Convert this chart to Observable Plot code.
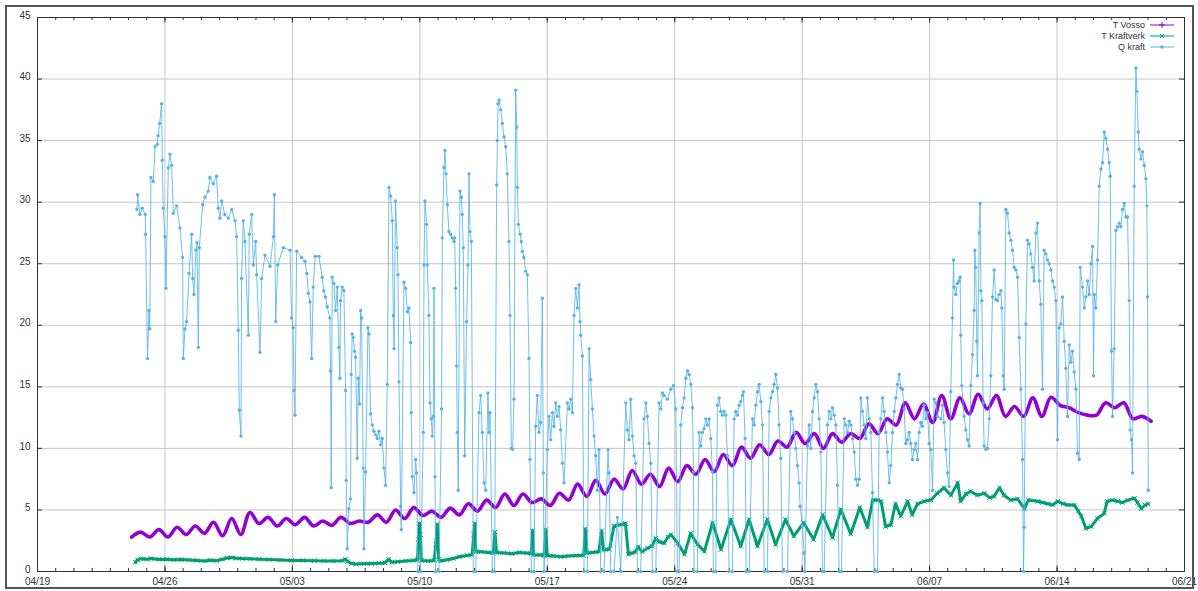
<!DOCTYPE html>
<html><head><meta charset="utf-8">
<script src="https://cdn.jsdelivr.net/npm/d3@7"></script>
<script src="https://cdn.jsdelivr.net/npm/@observablehq/plot@0.6"></script>
<style>
body{margin:0;background:#fff;}
#wrap{position:relative;width:1198px;height:591px;overflow:hidden;background:#fff;}
#border{position:absolute;left:5px;top:5px;width:1189px;height:584px;border:2px solid #555;box-sizing:border-box;pointer-events:none;}
#legend{position:absolute;left:0;top:0;pointer-events:none;}
</style></head>
<body><div id="wrap"><div id="chart"></div>
<svg id="legend" width="1198" height="80" font-family="Liberation Sans, Arial, sans-serif" font-size="9" fill="#333">
  <text x="1145" y="28" text-anchor="end">T Vosso</text>
  <line x1="1150" x2="1174" y1="25" y2="25" stroke="#9400d3" stroke-width="1"/>
  <path d="M1159,25h6M1162,22v6" stroke="#9400d3" stroke-width="1"/>
  <text x="1145" y="39" text-anchor="end">T Kraftverk</text>
  <line x1="1150" x2="1174" y1="36" y2="36" stroke="#009e73" stroke-width="1"/>
  <path d="M1160,34l4,4M1164,34l-4,4" stroke="#009e73" stroke-width="1"/>
  <text x="1145" y="50" text-anchor="end">Q kraft</text>
  <line x1="1150" x2="1174" y1="47" y2="47" stroke="#56b4e9" stroke-width="1"/>
  <circle cx="1162" cy="47" r="1.8" fill="#56b4e9"/>
</svg>
<div id="border"></div></div>
<script>
// ---- data (hours counted from 04/24 00:00) ----
const yTicks = [0,5,10,15,20,25,30,35,40,45];
const weekOffsets = [0,7,14,21,28,35,42,49,56,63];

// T Vosso: one value every 12 h starting 04/24 04:00 (night low, afternoon high)
const vossoValues = [2.8,3.2, 2.8,3.4, 2.8,3.6, 3.0,3.7, 3.1,4.0, 2.9,4.3, 3.0,4.8,
 3.9,4.4, 3.7,4.3, 3.8,4.4, 3.7,4.1, 3.75,4.4, 3.9,4.1, 4.0,4.6, 4.0,5.0, 4.3,5.2, 4.55,4.9,
 4.4,5.15, 4.6,5.5, 4.9,5.8, 5.2,6.3, 5.36,6.3, 5.6,5.9, 5.36,6.36, 5.8,7.1, 6.1,7.4, 6.3,7.5,
 6.7,8.2, 7.1,7.9, 6.9,8.4, 7.3,8.6, 7.9,9.1, 8.1,9.5, 8.6,10.1, 9.2,10.3, 9.5,10.6, 10.1,11.3,
 10.4,11.2, 10.0,11.2, 10.5,11.2, 10.8,12.0, 11.2,12.4, 11.9,13.7, 12.4,13.6, 12.1,14.3, 12.4,14.1,
 12.8,14.4, 13.2,14.3, 12.6,13.4, 12.6,14.1, 12.6,14.15, 13.5,13.3, 12.9,12.7, 12.7,13.7, 13.3,13.7,
 12.4,12.6, 12.2];

const kraftPoints = [[9,0.76],[12,0.95],[16,1.03],[24,1.0],[30,1.05],[40,0.98],[50,1.0],[60,0.95],[70,0.97],
 [80,0.93],[90,0.9],[100,0.86],[108,0.92],[116,0.88],[124,1.0],[130,1.1],[136,1.13],[142,1.08],[150,1.05],
 [160,1.03],[172,1.0],[185,0.97],[200,0.93],[215,0.9],[230,0.9],[245,0.88],[258,0.86],[270,0.85],[282,0.88],
 [286,1.0],[289,0.8],[294,0.65],[300,0.6],[310,0.62],[320,0.65],[330,0.68],[338,0.7],[343,1.0],[347,0.75],
 [355,0.8],[365,0.85],[375,0.9],[381,0.95],[382,2.6],[383.5,3.9],[385,3.0],[386,0.9],[395,0.85],[403,0.9],
 [405,2.2],[407,3.84],[409,1.0],[411,0.86],[420,0.95],[428,1.05],[436,1.2],[446,1.3],[453,1.35],[455,3.0],
 [456.5,3.9],[458,1.6],[465,1.6],[474,1.55],[481,1.5],[483,3.2],[485,1.55],[495,1.5],[505,1.45],[515,1.55],
 [525,1.5],[531,1.45],[532.5,3.3],[534,1.35],[542,1.35],[548,1.3],[550,3.4],[552,1.3],[560,1.25],[570,1.2],
 [580,1.25],[590,1.3],[600,1.3],[602,3.46],[604.5,1.5],[612,1.55],[620,1.6],[623.5,3.3],[626,1.75],[634,1.8],
 [640,3.7],[648,3.8],[655,3.9],[659,1.4],[664,1.5],[668,1.6],[672,2.0],[677,1.6],[684,1.9],[690,2.05],
 [695,2.7],[700,2.4],[706,2.3],[711,2.8],[715,3.0],[724,2.3],[733,1.4],[741,3.1],[750,2.2],[759,1.64],
 [770,3.96],[781,1.78],[794,4.23],[807,2.05],[818,4.23],[829,2.05],[842,4.23],[853,2.19],[866,4.23],
 [877,2.87],[890,3.96],[903,2.6],[915,4.6],[928,2.75],[939,5.05],[952,3.05],[964,5.2],[974,3.6],[981,5.8],
 [988,5.8],[992,5.7],[998,3.65],[1005,3.8],[1011,5.5],[1018,4.5],[1027,5.7],[1033,4.6],[1040,5.5],[1049,5.7],
 [1058,5.8],[1066,6.35],[1075,6.8],[1084,6.2],[1093,7.2],[1097,5.7],[1104,6.3],[1110,6.5],[1119,6.2],
 [1128,6.35],[1135,6.0],[1141,6.1],[1148,6.8],[1154,6.2],[1163,5.8],[1172,5.9],[1181,5.1],[1186,5.8],
 [1198,5.7],[1205,5.6],[1212,5.5],[1218,5.4],[1225,5.7],[1232,5.5],[1238,5.4],[1247,5.4],[1252,4.9],
 [1256,4.5],[1262,3.5],[1269,3.65],[1277,4.3],[1286,4.7],[1290,5.7],[1297,5.8],[1304,5.7],[1310,5.6],
 [1317,5.8],[1326,5.95],[1330,5.6],[1335,5.1],[1340,5.4],[1344,5.5]];

const qPoints = [[11,29.4],[12,30.6],[15,29.0],[18,29.5],[22,29.0],[22.5,27.4],[25,17.3],[27,21.2],[28,19.7],
 [29.5,32.0],[32.6,31.7],[35,34.5],[38,34.7],[39,35.4],[41,36.4],[43.6,38.0],[44.5,33.4],[45.8,29.5],[48,27.2],
 [49.3,23.0],[52.4,32.8],[54.6,33.9],[56.8,33.0],[59,29.1],[63.4,29.7],[67.8,27.9],[71.3,25.5],[72.2,17.3],
 [74.4,19.7],[76.6,20.3],[79.7,24.2],[83.2,27.4],[84.5,23.8],[86.2,22.5],[88.9,26.1],[90.2,26.7],[92,18.2],
 [93.3,26.3],[97.7,29.8],[100.8,30.4],[105,30.9],[107.3,32.0],[111.7,31.5],[116,32.1],[118.3,29.5],
 [120.5,28.7],[122.7,30.1],[127,29.0],[131.5,28.7],[136,29.4],[140.3,28.5],[142.5,27.2],[144.7,19.6],
 [146,13.1],[148.2,11.0],[149,23.8],[151.3,28.5],[153.5,26.8],[157.9,19.2],[159.2,27.4],[162.3,29.0],
 [164.5,24.9],[167.6,26.8],[168.9,24.1],[173.3,17.8],[175.5,23.8],[179.9,25.7],[186.5,24.8],[191,27.2],
 [192.2,30.6],[194,20.3],[196.6,24.9],[204,26.3],[212.9,26.1],[215,20.6],[217,19.8],[218.2,14.7],[219.4,12.7],
 [221.6,26.0],[228.2,25.5],[232.6,25.2],[235,24.2],[237,22.6],[239.2,21.9],[241.4,17.3],[243.5,23.1],
 [246,25.6],[251,25.6],[255.3,23.9],[257.5,22.8],[259.7,22.3],[261.9,21.5],[265.4,20.6],[266.3,16.3],
 [267.2,6.8],[268.5,23.9],[270.7,23.4],[273,21.2],[275.1,23.1],[277.3,18.2],[278.6,15.7],[279.5,22.0],
 [281.7,23.1],[283.9,22.8],[286.1,14.7],[287,7.4],[288.3,1.85],[290.5,5.1],[292.7,5.9],[293.6,16.0],
 [294.9,19.3],[296.2,19.0],[298,17.9],[299.3,17.4],[301.5,9.2],[302.8,15.7],[304.6,13.6],[305.9,21.2],
 [307.2,20.6],[309.4,8.4],[310.3,1.85],[312.5,8.1],[315.6,19.8],[316.9,19.3],[319.1,12.8],[321.3,11.9],
 [323.5,11.4],[325.7,11.1],[327.9,10.8],[330.1,11.4],[332.3,10.3],[334.5,10.8],[336.7,8.4],[338.9,7.0],
 [341.1,15.2],[343.3,31.2],[345.5,30.5],[347.7,28.5],[349,20.8],[350,18.1],
 [352,30.1],[354.3,26.3],[355.2,24.1],[356.5,15.4],[358.7,5.3],[359.6,3.4],[363.1,23.5],[365.3,23.0],
 [367.5,21.1],[369.7,21.4],[371.9,18.6],[372.7,12.9],[374,7.7],[376.3,6.4],[378.5,9.1],[379.8,8.0],
 [381.5,0],[385,0],[388.6,11.3],[389.5,24.9],[390.8,30.1],[393,28.2],[393.8,24.9],[396,20.8],[397.4,13.7],
 [399.1,12.4],[400.4,11.0],[401.8,12.6],[402.6,23.0],[404,7.7],[404.8,0],[409.2,0],[412.7,13.2],[413.6,27.1],
 [415.8,32.8],[417.1,34.2],[418.5,32.3],[420.2,29.8],[422.4,27.6],[424.6,27.4],[426.8,27.1],[429,26.8],
 [429.9,27.1],[431.2,23.0],[432.5,16.7],[433.4,11.3],[434.7,6.6],[436.9,30.9],[438.7,30.4],[440,29.0],
 [441.3,26.3],[443.1,9.4],[445.7,20.3],[447.5,24.9],[448.8,32.3],[450.1,27.6],[451.9,26.8],[454.5,0],
 [457.6,0],[462,12.9],[464.2,14.3],[466.4,11.3],[468.6,7.2],[470.8,6.6],[473.8,14.5],[475.2,11.3],
 [476.5,12.9],[479.6,0],[482.6,0],[485.3,31.4],[486.2,35.0],[487.1,38.0],[488.4,38.3],[490.6,37.5],
 [492.8,36.4],[495,35.3],[497.2,34.5],[499.3,32.3],[501.5,26.8],[502.9,20.8],[504.6,10.0],[506.4,9.9],
 [508.1,14.0],[510.3,39.1],[511.7,36.1],[512.6,31.2],[513.9,28.2],[516.1,27.4],[517.8,26.8],[519.1,26.0],
 [521.3,25.5],[523.5,24.4],[525.7,24.1],[527.9,17.3],[529.2,9.1],[531,0],[534.5,0],[536.7,11.8],[538.9,14.3],
 [541.1,11.3],[543.3,12.1],[545.5,22.2],[546.8,8.0],[547.7,0],[552.1,9.9],[554.3,12.6],[556.5,10.7],
 [558.7,12.9],[560.9,11.8],[563.1,13.7],[565.3,12.6],[567.5,13.4],[569.7,11.5],[571.9,8.8],[574.1,7.2],
 [578.5,13.7],[580.7,13.2],[582.9,14.0],[585.1,12.9],[587.3,20.8],[589.5,23.0],[591.7,21.4],[593.9,23.3],
 [595.2,20.3],[596.1,19.2],[598.3,17.5],[600.5,0],[604.9,0],[607.1,18.1],[609.3,15.6],[611.5,13.2],
 [613.7,11.0],[615.8,9.4],[618,6.6],[620.2,9.9],[622.4,0],[626.8,0],[632.1,9.9],[633.4,8.0],[635.6,0],
 [640,0],[644.4,4.4],[648.8,0],[655.4,13.7],[657.6,11.5],[659.8,10.7],[662,14.0],[664.2,11.0],[666.4,9.4],
 [668.6,8.8],[670.8,0],[675.2,0],[679.6,12.4],[681.8,13.7],[684,12.6],[686.2,10.4],[688.4,8.8],[690.6,0],
 [695,0],[699.4,13.7],[701.6,13.2],[703.8,14.5],[706,14.3],[710.4,14.0],[714.8,14.8],[718.3,15.1],
 [721.4,13.2],[723.6,0],[725.8,0],[728,11.9],[730.2,13.3],[732.4,14.1],[734.6,15.7],[736.8,16.3],[739,16.0],
 [741.2,15.2],[743.4,13.3],[744.7,8.1],[745.5,0],[750,0],[752.1,11.3],[754.3,10.2],[756.5,11.3],[758.7,11.6],
 [760.9,12.4],[763.1,11.9],[765.3,12.4],[767.5,10.8],[769.7,8.1],[771,0],[774.1,0],[776.3,13.5],[778.5,14.1],
 [780.7,13.0],[782.9,12.7],[785.1,13.0],[787.3,12.7],[789.5,9.4],[791.7,0],[796.1,0],[798.3,12.4],
 [800.5,13.0],[802.7,12.7],[804.9,13.5],[807.1,13.8],[809.3,14.3],[810.6,14.6],[812.8,10.8],[814.1,0],
 [818.1,0],[822.5,12.4],[824.7,11.9],[826.9,13.5],[829.1,14.6],[831.3,15.2],[833.5,13.8],[835.7,11.9],
 [837.9,0],[842.3,0],[844.5,13.0],[846.7,14.1],[848.9,14.6],[851.1,15.2],[853.3,16.0],[855.4,14.9],
 [857.6,11.9],[859.8,9.2],[862,0],[868.6,0],[873,13.0],[875.2,12.4],[877.4,11.3],[879.6,10.0],[881.8,8.6],
 [884,7.2],[885.3,5.3],[888.4,3.7],[890.6,1.5],[891.5,0],[895,10.2],[897.2,11.9],[899.4,10.0],[901.6,13.0],
 [903.8,14.1],[906,15.2],[908.2,14.6],[910.4,12.4],[912.6,9.7],[914.8,0],[917,0],[921.4,11.9],[923.6,13.0],
 [925.8,12.4],[928,13.3],[930.2,12.7],[932.4,11.9],[934.6,7.0],[936.8,0],[939.8,0],[943.4,12.4],[945.6,11.9],
 [947.8,11.3],[950,12.2],[952.2,11.9],[954.4,10.8],[956.6,9.7],[958.8,7.5],[961,7.0],[963.2,7.5],[965.4,14.1],
 [967.5,13.0],[969.7,11.9],[971.9,10.8],[974.1,14.1],[976.3,12.4],[978.5,11.3],[980.7,6.4],[982.9,0],
 [987.3,0],[989.5,11.3],[991.7,12.4],[993.9,14.1],[996.1,13.0],[998.3,11.3],[1000.5,9.7],[1002.7,7.2],
 [1004.9,8.6],[1007.1,11.3],[1009.3,13.0],[1011.5,14.1],[1013.7,15.2],[1015.9,16.0],[1018.1,14.9],
 [1020.2,14.8],[1022.4,13.2],[1024.6,10.4],[1026.8,10.7],[1029,11.3],[1031.2,10.4],[1033.4,9.1],[1035.6,9.9],
 [1037.8,10.4],[1040,9.1],[1042.2,11.3],[1044.4,12.1],[1046.6,11.8],[1048.8,13.5],[1051,12.4],[1053.2,12.9],
 [1055.4,10.4],[1057.6,9.9],[1059.8,6.6],[1062,14.0],[1064.2,13.7],[1066.4,12.6],[1070.8,12.4],[1073,13.5],
 [1075.1,12.1],[1077.3,9.9],[1079.5,8.0],[1081.7,6.9],[1083.9,14.6],[1086.1,20.6],[1087.5,25.3],[1088.3,23.1],
 [1090.5,22.5],[1092.7,23.4],[1094.9,23.6],[1096.2,23.9],[1097.1,19.2],[1098.4,15.1],[1101.5,12.6],
 [1103.7,11.5],[1105.9,10.7],[1108.1,10.2],[1110.3,15.1],[1112.5,17.6],[1114.7,21.2],[1115.6,26.1],
 [1116.9,24.7],[1118.2,18.7],[1119.1,15.9],[1121.3,27.5],[1122.6,29.9],[1123.5,22.8],[1124.8,22.0],
 [1126.6,13.7],[1127.9,10.2],[1130.1,9.9],[1132.3,10.0],[1134.5,12.4],[1136.7,15.9],[1138.9,22.3],
 [1141.1,24.5],[1143.3,22.1],[1145.5,22.0],[1147.7,22.5],[1149.9,22.8],[1151.2,21.4],[1153,15.9],
 [1154.3,14.8],[1156.5,29.4],[1158.7,29.1],[1160.9,27.5],[1163.1,26.9],[1165.3,26.1],[1167.5,24.7],
 [1169.7,24.5],[1171.9,23.9],[1174.1,19.0],[1176.3,14.8],[1178.5,9.1],[1179.8,0],[1180.7,3.6],[1182.9,20.1],
 [1185,26.9],[1187.2,26.6],[1189.4,25.8],[1191.6,24.7],[1193.8,23.6],[1196,27.5],[1198.2,28.3],[1200.4,23.6],
 [1202.6,21.7],[1204.8,14.8],[1207,26.1],[1209.2,25.8],[1211.4,25.3],[1213.6,25.0],[1215.8,24.5],[1218,23.6],
 [1220.2,23.1],[1222.4,22.0],[1224.6,10.7],[1226.8,19.8],[1229,20.1],[1231.2,22.3],[1233.4,18.7],
 [1235.6,16.5],[1237.8,12.6],[1240,18.4],[1242.2,17.0],[1244.4,17.9],[1246.6,16.2],[1248.8,14.8],[1251,9.6],
 [1253.2,9.1],[1254.5,24.7],[1257.6,23.1],[1259.8,21.4],[1262,22.3],[1264.2,23.6],[1266.4,22.5],[1268.6,25.0],
 [1270.8,26.4],[1272.1,15.9],[1273,22.5],[1275.2,21.4],[1277.4,25.3],[1279.6,31.3],[1281.8,32.7],[1284,33.2],
 [1286.2,35.7],[1288.4,35.2],[1290.6,34.3],[1292.8,33.2],[1294.1,32.1],[1295.8,17.9],[1297.1,12.6],
 [1299.3,18.1],[1301.5,27.7],[1303.7,28.0],[1305.9,28.3],[1308.1,28.0],[1310.3,29.4],[1312.5,29.9],
 [1314.7,28.8],[1316.9,28.8],[1319.1,22.0],[1320.4,11.5],[1322.2,10.7],[1323.5,8.0],[1325.7,31.3],
 [1327.9,40.9],[1329.2,39.0],[1331,35.7],[1332.3,34.3],[1334.5,33.5],[1336.7,34.1],[1338.9,33.0],
 [1341.1,31.9],[1342.4,29.7],[1343.3,22.3],[1344.2,6.6]];

// ---- build tables ----
const t0 = Date.UTC(2023, 3, 24);
const at = h => new Date(t0 + h * 3600e3);
const vosso = vossoValues.map((v, i) => ({t: at(4 + 12 * i), v}));
const kraft = kraftPoints.map(([h, v]) => ({t: at(h), v}));
const q = qPoints.map(([h, v]) => ({t: at(h), v}));

const x0 = new Date(Date.UTC(2023, 3, 19));
const x1 = new Date(Date.UTC(2023, 5, 21));
const weekTicks = weekOffsets.map(d => d3.utcDay.offset(x0, d));
const dayTicks = d3.range(0, 64).map(d => d3.utcDay.offset(x0, d));
const tickTime = 3600e3 * 6.6;

const ink = "#333";
const chart = Plot.plot({
  width: 1198, height: 591,
  marginLeft: 37, marginRight: 14, marginTop: 17, marginBottom: 20,
  x: {type: "utc", domain: [x0, x1]},
  y: {domain: [0, 45]},
  style: {fontFamily: "Liberation Sans, Arial, sans-serif", fontSize: "10px", color: ink, background: "white"},
  marks: [
    Plot.gridX(weekTicks, {stroke: "#c6c6c6", strokeOpacity: 1}),
    Plot.gridY(yTicks, {stroke: "#c6c6c6", strokeOpacity: 1}),
    Plot.ruleX(dayTicks, {x: d => d, y1: 0, y2: 0.25, stroke: ink}),
    Plot.ruleX(dayTicks, {x: d => d, y1: 44.75, y2: 45, stroke: ink}),
    Plot.ruleX(weekTicks, {x: d => d, y1: 0, y2: 0.45, stroke: ink}),
    Plot.ruleX(weekTicks, {x: d => d, y1: 44.55, y2: 45, stroke: ink}),
    Plot.ruleY(yTicks, {y: d => d, x1: x0, x2: new Date(+x0 + tickTime), stroke: ink}),
    Plot.ruleY(yTicks, {y: d => d, x1: new Date(+x1 - tickTime), x2: x1, stroke: ink}),
    Plot.frame({stroke: ink}),
    Plot.axisX({ticks: weekTicks, tickFormat: d3.utcFormat("%m/%d"), tickSize: 0, tickPadding: 6, label: null}),
    Plot.axisY({ticks: yTicks, tickSize: 0, tickPadding: 7, dy: -2, label: null}),
    Plot.line(vosso, {x: "t", y: "v", stroke: "#9400d3", strokeWidth: 3.6, curve: "catmull-rom"}),
    Plot.line(kraft, {x: "t", y: "v", stroke: "#009e73", strokeWidth: 3, curve: "linear"}),
    Plot.dot(kraft, {x: "t", y: "v", symbol: "times", r: 2.2, stroke: "#009e73", strokeWidth: 1}),
    Plot.line(q, {x: "t", y: "v", stroke: "#56b4e9", strokeWidth: 1, strokeOpacity: 0.85}),
    Plot.dot(q, {x: "t", y: "v", r: 1.7, fill: "#56b4e9", stroke: "none"})
  ]
});
document.getElementById("chart").appendChild(chart);
</script>
</body></html>
